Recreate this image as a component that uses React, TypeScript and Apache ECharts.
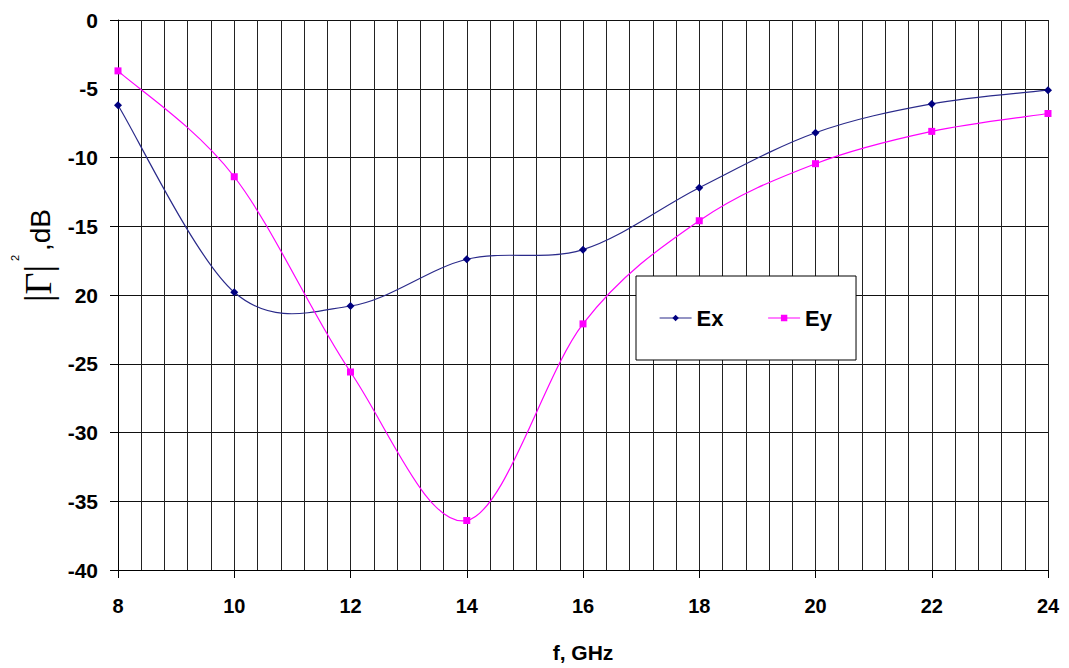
import React, { useEffect, useRef } from "react";
import * as echarts from "echarts";

const freqs = [8, 10, 12, 14, 16, 18, 20, 22, 24];
const exValues = [-6.2, -19.8, -20.8, -17.4, -16.7, -12.2, -8.2, -6.1, -5.1];
const eyValues = [-3.7, -11.4, -25.6, -36.4, -22.1, -14.6, -10.45, -8.1, -6.8];
const seriesNames = ["Ex", "Ey"];
const exColor = "#000080";
const exLine = "#2a2a8a";
const eyColor = "#ff00ff";

// Catmull-Rom spline through pixel points (Excel-like smoothing)
function splinePath(pts: number[][]): string {
  let d = `M${pts[0][0]},${pts[0][1]}`;
  for (let i = 0; i < pts.length - 1; i++) {
    const p0 = pts[Math.max(0, i - 1)];
    const p1 = pts[i];
    const p2 = pts[i + 1];
    const p3 = pts[Math.min(pts.length - 1, i + 2)];
    const c1x = p1[0] + (p2[0] - p0[0]) / 6;
    const c1y = p1[1] + (p2[1] - p0[1]) / 6;
    const c2x = p2[0] - (p3[0] - p1[0]) / 6;
    const c2y = p2[1] - (p3[1] - p1[1]) / 6;
    d += ` C${c1x},${c1y} ${c2x},${c2y} ${p2[0]},${p2[1]}`;
  }
  return d;
}

function curveSeries(values: number[], color: string) {
  return {
    type: "custom",
    silent: true,
    z: 2,
    data: freqs.map((f, i) => [f, values[i]]),
    renderItem: (params: any, api: any) => {
      if (params.dataIndex !== 0) return null;
      const pts = freqs.map((f, i) => api.coord([f, values[i]]));
      return {
        type: "path",
        shape: { pathData: splinePath(pts) },
        style: { fill: "none", stroke: color, lineWidth: 1.2 },
      };
    },
  };
}

export default function App() {
  const ref = useRef<HTMLDivElement>(null);
  useEffect(() => {
    const chart = echarts.init(ref.current!, null, { renderer: "svg" });
    const font = "Liberation Sans, Arial, sans-serif";
    const serif = "Liberation Serif, Times New Roman, serif";
    chart.setOption({
      animation: false,
      backgroundColor: "#fff",
      grid: { left: 118, right: 21, top: 20, bottom: 97 },
      legend: {
        left: 636,
        top: 276,
        orient: "horizontal",
        backgroundColor: "#fff",
        borderColor: "#000",
        borderWidth: 1,
        padding: [31, 24, 31, 23],
        itemGap: 44,
        itemWidth: 32,
        itemHeight: 8,
        textStyle: { fontFamily: font, fontWeight: "bold", fontSize: 22, color: "#000" },
        data: [
          { name: seriesNames[0], lineStyle: { color: exLine, width: 1.2, opacity: 1 } },
          { name: seriesNames[1], lineStyle: { color: eyColor, width: 1.2, opacity: 1 } },
        ],
      },
      xAxis: {
        type: "value",
        min: 8,
        max: 24,
        interval: 2,
        name: "f, GHz",
        nameLocation: "middle",
        nameGap: 72,
        nameTextStyle: { fontFamily: font, fontWeight: "bold", fontSize: 21, color: "#000" },
        axisLine: { show: true, onZero: false, lineStyle: { color: "#000", width: 1 } },
        axisTick: { show: true, length: 8, lineStyle: { color: "#000" } },
        axisLabel: { margin: 26, fontFamily: font, fontWeight: "bold", fontSize: 20, color: "#000" },
        splitLine: { show: true, lineStyle: { color: "#222", width: 1 } },
        minorTick: { show: false, splitNumber: 5 },
        minorSplitLine: { show: true, lineStyle: { color: "#222", width: 1 } },
      },
      yAxis: {
        type: "value",
        min: -40,
        max: 0,
        interval: 5,
        axisLine: { show: true, onZero: false, lineStyle: { color: "#000", width: 1 } },
        axisTick: { show: true, length: 8, lineStyle: { color: "#000" } },
        axisLabel: {
          margin: 20,
          fontFamily: font,
          fontWeight: "bold",
          fontSize: 21,
          color: "#000",
          formatter: (v: number) => (v === -20 ? "20" : String(v)),
        },
        splitLine: { show: true, lineStyle: { color: "#111", width: 1 } },
      },
      graphic: [
        {
          type: "text",
          x: 38,
          y: 302,
          rotation: Math.PI / 2,
          style: {
            text: "|Γ|",
            font: `38px ${serif}`,
            fill: "#000",
            align: "left",
            verticalAlign: "middle",
          },
        },
        {
          type: "text",
          x: 15,
          y: 261,
          rotation: Math.PI / 2,
          style: {
            text: "2",
            font: `11px ${font}`,
            fill: "#000",
            align: "left",
            verticalAlign: "middle",
          },
        },
        {
          type: "text",
          x: 40,
          y: 251,
          rotation: Math.PI / 2,
          style: {
            text: ",dB",
            font: `28px ${font}`,
            fill: "#000",
            align: "left",
            verticalAlign: "middle",
          },
        },
      ],
      series: [
        {
          name: "Ex",
          type: "line",
          data: freqs.map((f, i) => [f, exValues[i]]),
          symbol: "diamond",
          symbolSize: 8,
          lineStyle: { color: exLine, width: 1.2, opacity: 0 },
          itemStyle: { color: exColor },
          z: 3,
        },
        {
          name: "Ey",
          type: "line",
          data: freqs.map((f, i) => [f, eyValues[i]]),
          symbol: "rect",
          symbolSize: 7,
          lineStyle: { color: eyColor, width: 1.2, opacity: 0 },
          itemStyle: { color: eyColor },
          z: 3,
        },
        curveSeries(exValues, exLine),
        curveSeries(eyValues, eyColor),
      ],
    });
    return () => chart.dispose();
  }, []);
  return (
    <div
      ref={ref}
      style={{ position: "absolute", left: 0, top: 0, width: 1069, height: 668 }}
    />
  );
}
